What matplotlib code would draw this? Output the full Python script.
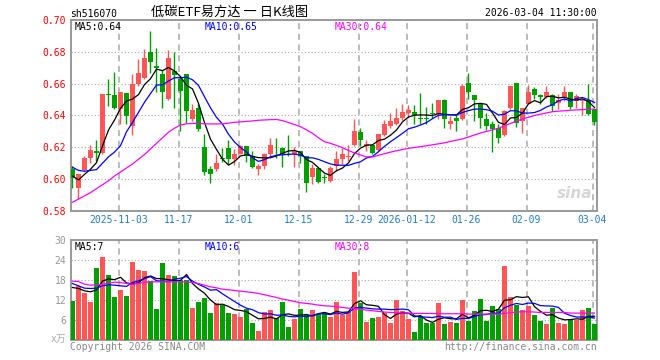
import numpy as np
import pandas as pd
import matplotlib
matplotlib.use('Agg')
import matplotlib.pyplot as plt

plt.rcParams['font.family'] = ['DejaVu Sans Mono', 'Noto Sans CJK SC']

# daily candles (open / high / low / close)
opens = [0.6063, 0.5947, 0.6056, 0.6131, 0.6177, 0.6167, 0.6534, 0.6527, 0.6440, 0.6544,
         0.6335, 0.6597, 0.6634, 0.6800, 0.6708, 0.6660, 0.6502, 0.6680, 0.6628, 0.6660,
         0.6377, 0.6450, 0.6205, 0.6062, 0.6062, 0.6135, 0.6194, 0.6125, 0.6156, 0.6209,
         0.6146, 0.6062, 0.6083, 0.6156, 0.6205, 0.6194, 0.6161, 0.6156, 0.6177, 0.6146,
         0.6015, 0.6073, 0.6016, 0.5990, 0.6083, 0.6125, 0.6140, 0.6215, 0.6299, 0.6209,
         0.6215, 0.6182, 0.6278, 0.6335, 0.6345, 0.6383, 0.6414, 0.6425, 0.6383, 0.6383,
         0.6416, 0.6408, 0.6496, 0.6345, 0.6383, 0.6377, 0.6607, 0.6527, 0.6471, 0.6377,
         0.6345, 0.6320, 0.6278, 0.6446, 0.6607, 0.6366, 0.6475, 0.6565, 0.6530, 0.6517,
         0.6530, 0.6481, 0.6509, 0.6550, 0.6492, 0.6488, 0.6496, 0.6440]
highs = [0.6083, 0.6035, 0.6146, 0.6213, 0.6244, 0.6538, 0.6632, 0.6676, 0.6550, 0.6544,
         0.6660, 0.6758, 0.6820, 0.6932, 0.6827, 0.6685, 0.6813, 0.6800, 0.6640, 0.6660,
         0.6470, 0.6470, 0.6282, 0.6083, 0.6161, 0.6198, 0.6244, 0.6188, 0.6213, 0.6209,
         0.6177, 0.6093, 0.6167, 0.6261, 0.6261, 0.6203, 0.6276, 0.6203, 0.6177, 0.6146,
         0.6093, 0.6073, 0.6035, 0.6083, 0.6177, 0.6198, 0.6213, 0.6377, 0.6324, 0.6244,
         0.6215, 0.6286, 0.6370, 0.6418, 0.6446, 0.6475, 0.6465, 0.6467, 0.6544, 0.6454,
         0.6481, 0.6496, 0.6502, 0.6398, 0.6410, 0.6597, 0.6666, 0.6527, 0.6475, 0.6418,
         0.6366, 0.6345, 0.6433, 0.6586, 0.6607, 0.6446, 0.6590, 0.6580, 0.6538, 0.6586,
         0.6534, 0.6534, 0.6586, 0.6550, 0.6534, 0.6513, 0.6600, 0.6440]
lows = [0.5945, 0.5878, 0.6052, 0.6104, 0.6114, 0.6160, 0.6460, 0.6440, 0.6345, 0.6345,
        0.6278, 0.6586, 0.6628, 0.6670, 0.6550, 0.6444, 0.6496, 0.6450, 0.6300, 0.6355,
        0.6366, 0.6303, 0.6026, 0.5978, 0.6052, 0.6110, 0.6093, 0.6089, 0.6156, 0.6110,
        0.6068, 0.6026, 0.6062, 0.6135, 0.6135, 0.6077, 0.6146, 0.6077, 0.6104, 0.5922,
        0.5968, 0.5978, 0.5978, 0.5985, 0.6052, 0.6093, 0.6115, 0.6209, 0.6209, 0.6177,
        0.6156, 0.6177, 0.6272, 0.6324, 0.6340, 0.6370, 0.6385, 0.6345, 0.6345, 0.6345,
        0.6387, 0.6377, 0.6324, 0.6314, 0.6304, 0.6370, 0.6502, 0.6366, 0.6324, 0.6307,
        0.6173, 0.6230, 0.6272, 0.6440, 0.6328, 0.6293, 0.6471, 0.6502, 0.6475, 0.6513,
        0.6429, 0.6440, 0.6488, 0.6440, 0.6450, 0.6406, 0.6406, 0.6339]
closes = [0.6010, 0.6030, 0.6131, 0.6182, 0.6167, 0.6534, 0.6527, 0.6446, 0.6550, 0.6397,
          0.6597, 0.6666, 0.6760, 0.6733, 0.6701, 0.6550, 0.6764, 0.6653, 0.6555, 0.6429,
          0.6435, 0.6314, 0.6047, 0.6035, 0.6104, 0.6129, 0.6125, 0.6161, 0.6209, 0.6146,
          0.6077, 0.6083, 0.6156, 0.6213, 0.6200, 0.6161, 0.6154, 0.6177, 0.6146, 0.5978,
          0.6073, 0.5984, 0.6010, 0.6073, 0.6125, 0.6156, 0.6146, 0.6303, 0.6244, 0.6219,
          0.6167, 0.6282, 0.6345, 0.6366, 0.6383, 0.6425, 0.6433, 0.6402, 0.6377, 0.6377,
          0.6410, 0.6496, 0.6377, 0.6366, 0.6366, 0.6586, 0.6550, 0.6496, 0.6383, 0.6335,
          0.6314, 0.6257, 0.6429, 0.6586, 0.6356, 0.6446, 0.6550, 0.6530, 0.6517, 0.6550,
          0.6460, 0.6496, 0.6550, 0.6454, 0.6523, 0.6500, 0.6412, 0.6362]

# volume in 万
volumes = [11.8, 16.2, 14.2, 11.5, 21.7, 25.0, 19.6, 13.0, 15.1, 13.2,
           23.5, 21.1, 20.8, 17.7, 9.4, 23.2, 19.6, 19.3, 18.2, 18.2,
           9.7, 11.5, 12.7, 8.1, 11.1, 10.5, 8.1, 7.9, 6.9, 9.2,
           5.1, 2.8, 8.4, 9.0, 6.5, 11.4, 4.0, 6.2, 9.3, 7.5,
           9.0, 7.7, 8.0, 6.8, 11.5, 7.5, 8.5, 20.5, 11.0, 5.5,
           6.7, 7.0, 8.0, 5.2, 12.0, 8.7, 6.4, 2.5, 7.2, 5.2,
           5.2, 11.2, 4.8, 5.5, 5.2, 12.0, 5.8, 8.7, 12.4, 5.8,
           10.2, 9.2, 22.3, 13.0, 10.5, 9.0, 10.2, 7.5, 5.8, 4.8,
           9.7, 5.2, 4.8, 6.2, 6.0, 9.0, 9.7, 4.8]

# moving-average values before a full window exists
ma5_head = [0.6020, 0.5995, 0.6030, 0.6062]
ma10_head = [0.6075, 0.6055, 0.6050, 0.6055, 0.6060, 0.6100, 0.6140, 0.6170, 0.6210]
ma30 = [0.5855, 0.5875, 0.5895, 0.5915, 0.5940, 0.5965, 0.5990, 0.6020, 0.6045, 0.6070,
        0.6095, 0.6125, 0.6155, 0.6190, 0.6225, 0.6260, 0.6295, 0.6320, 0.6340, 0.6348,
        0.6350, 0.6350, 0.6348, 0.6347, 0.6347, 0.6348, 0.6352, 0.6357, 0.6360, 0.6363,
        0.6366, 0.6370, 0.6372, 0.6374, 0.6375, 0.6368, 0.6356, 0.6343, 0.6330, 0.6310,
        0.6288, 0.6260, 0.6235, 0.6225, 0.6212, 0.6198, 0.6180, 0.6165, 0.6152, 0.6140,
        0.6140, 0.6150, 0.6160, 0.6170, 0.6178, 0.6186, 0.6194, 0.6199, 0.6204, 0.6210,
        0.6216, 0.6222, 0.6228, 0.6237, 0.6245, 0.6253, 0.6265, 0.6278, 0.6290, 0.6300,
        0.6310, 0.6320, 0.6335, 0.6350, 0.6365, 0.6377, 0.6389, 0.6400, 0.6408, 0.6416,
        0.6424, 0.6427, 0.6430, 0.6433, 0.6435, 0.6437, 0.6439, 0.6440]
vma5_head = [15.8, 15.5, 14.8, 14.5]
vma10_head = [17.0, 16.3, 15.6, 15.5, 15.6, 16.3, 16.6, 16.5, 16.3]
vma30 = [17.7, 17.6, 16.8, 16.5, 16.6, 16.8, 17.1, 17.4, 17.3, 17.0,
         16.8, 17.0, 17.4, 17.5, 17.5, 17.5, 17.5, 17.5, 17.5, 17.5,
         17.3, 17.0, 16.5, 16.0, 15.7, 15.3, 15.1, 14.9, 14.7, 14.5,
         14.3, 14.0, 13.6, 13.2, 12.8, 12.3, 12.0, 11.6, 11.2, 11.0,
         10.8, 10.5, 10.3, 10.2, 10.0, 9.8, 9.6, 9.4, 9.2, 9.0,
         8.8, 8.6, 8.4, 8.3, 8.2, 8.1, 8.1, 8.0, 8.0, 8.0,
         8.0, 7.9, 7.9, 7.9, 7.9, 7.9, 7.8, 7.8, 7.8, 7.8,
         7.8, 7.8, 8.0, 8.2, 8.4, 8.5, 8.5, 8.4, 8.3, 8.3,
         8.3, 8.3, 8.3, 8.1, 8.1, 8.1, 8.1, 8.1]

date_labels = ['2025-11-03', '11-17', '12-01', '12-15', '12-29', '2026-01-12',
               '01-26', '02-09', '03-04']
date_idx = [8, 18, 28, 38, 48, 56, 66, 76, 87]
price_ticks = [0.58, 0.60, 0.62, 0.64, 0.66, 0.68, 0.70]
vol_ticks = [6, 12, 18, 24, 30]

RED = '#ff5555'
GREEN = '#00a000'
GRID = '#aaaaaa'

x = np.arange(len(closes))
o = np.array(opens)
c = np.array(closes)
up = c >= o
colors = np.where(up, RED, GREEN)

cs = pd.Series(closes)
ma5 = cs.rolling(5).mean().values
ma5[:4] = ma5_head
ma10 = cs.rolling(10).mean().values
ma10[:9] = ma10_head
vs = pd.Series(volumes)
vma5 = vs.rolling(5).mean().values
vma5[:4] = vma5_head
vma10 = vs.rolling(10).mean().values
vma10[:9] = vma10_head

W, H = 660, 360
fig = plt.figure(figsize=(6.6, 3.6), dpi=100)
L, R = 70.5, 596.7
ax = fig.add_axes([L / W, 1 - 211 / H, (R - L) / W, (211 - 20) / H])
axv = fig.add_axes([L / W, 1 - 340 / H, (R - L) / W, (340 - 240.3) / H])

xlim = (-0.33, 87.37)

# --- candles
body_bot = np.minimum(o, c)
body_h = np.maximum(np.abs(c - o), 0.0004)
ax.vlines(x, lows, highs, colors=colors, linewidth=1.0, zorder=3)
ax.bar(x, body_h, bottom=body_bot, width=0.78, color=colors, linewidth=0, zorder=4)
ax.plot(x, ma5, color='black', lw=0.9, zorder=5)
ax.plot(x, ma10, color='#0000ff', lw=0.9, zorder=5)
ax.plot(x, ma30, color='#ff00ff', lw=0.9, zorder=5)

ax.set_xlim(*xlim)
ax.set_ylim(0.58, 0.70)
ax.set_yticks(price_ticks)
ax.set_yticklabels(['%.2f' % t for t in price_ticks], color='#ff0000', fontsize=7)
ax.set_xticks([i - 0.33 for i in date_idx])
ax.set_xticklabels(date_labels, color='#1e7fcb', fontsize=7)
ax.tick_params(length=0, pad=3)
ax.grid(axis='x', color=GRID, linestyle=(0, (4, 3)), lw=1.1)
ax.grid(axis='y', color=GRID, linestyle=(0, (1, 2)), lw=0.8)
ax.set_axisbelow(True)

# --- volume
axv.bar(x, volumes, width=0.78, color=colors, linewidth=0, zorder=3)
axv.plot(x, vma5, color='black', lw=0.9, zorder=4)
axv.plot(x, vma10, color='#0000ff', lw=0.9, zorder=4)
axv.plot(x, vma30, color='#ff00ff', lw=0.9, zorder=4)
axv.set_xlim(*xlim)
axv.set_ylim(0, 30)
axv.set_yticks(vol_ticks)
axv.set_yticklabels([str(t) for t in vol_ticks], color='#999999', fontsize=7)
axv.set_xticks([i - 0.33 for i in date_idx])
axv.set_xticklabels([])
axv.tick_params(length=0, pad=3)
axv.grid(axis='x', color=GRID, linestyle=(0, (4, 3)), lw=1.1)
axv.grid(axis='y', color=GRID, linestyle=(0, (1, 2)), lw=0.8)
axv.set_axisbelow(True)

for a in (ax, axv):
    for s in a.spines.values():
        s.set_color('#999999')
        s.set_linewidth(1.4)

# --- texts
def px(xp, yp):
    return xp / W, 1 - yp / H

fig.text(*px(70, 14), 'sh516070', fontsize=7, va='center', ha='left')
fig.text(*px(230, 12), '低碳ETF易方达 一 日K线图', fontsize=9.5, va='center', ha='center',
         family=['Noto Sans CJK SC', 'DejaVu Sans'])
fig.text(*px(597, 13), '2026-03-04 11:30:00', fontsize=7, va='center', ha='right')
fig.text(*px(75, 27), 'MA5:0.64', fontsize=7, va='center', color='black')
fig.text(*px(205, 27), 'MA10:0.65', fontsize=7, va='center', color='#0000ff')
fig.text(*px(335, 27), 'MA30:0.64', fontsize=7, va='center', color='#ff00ff')
fig.text(*px(75, 247), 'MA5:7', fontsize=7, va='center', color='black')
fig.text(*px(205, 247), 'MA10:6', fontsize=7, va='center', color='#0000ff')
fig.text(*px(335, 247), 'MA30:8', fontsize=7, va='center', color='#ff00ff')
fig.text(*px(66, 339), 'x万', fontsize=7, va='center', ha='right', color='#aaaaaa')
fig.text(*px(70, 347), 'Copyright 2026 SINA.COM', fontsize=7, va='center', color='#888888')
fig.text(*px(597, 347), 'http://finance.sina.com.cn', fontsize=7, va='center', ha='right',
         color='#888888')
fig.text(*px(575, 194), 'sina', fontsize=11, va='center', ha='center', color='#cccccc',
         style='italic', weight='bold', family='DejaVu Sans', alpha=0.8)

fig.savefig('out.png', dpi=100)
